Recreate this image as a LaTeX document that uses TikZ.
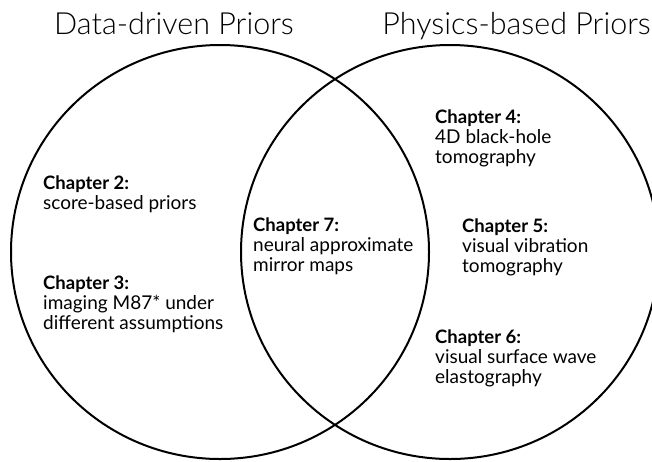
\documentclass[tikz,border=0pt]{standalone}
\usepackage{fontspec}
\setmainfont{Lato}
\newfontfamily\titlefont{Lato Light}
\usetikzlibrary{shapes.geometric}
\tikzset{
  ring/.style={draw=black, line width=2pt, ellipse, inner sep=0pt,
    minimum width=418pt, minimum height=414pt},
  titletext/.style={inner sep=0pt, font=\titlefont\fontsize{30.5}{34}\selectfont},
  blk/.style={inner sep=0pt, align=left, anchor=north west,
    font=\fontsize{19}{20}\selectfont},
}
\newcommand{\chead}[1]{\rule{0pt}{14pt}{\fontsize{18.5}{20}\selectfont\textbf{#1}}}
\begin{document}
\begin{tikzpicture}[x=1pt,y=-1pt]
\useasboundingbox (0,0) rectangle (652,461);
\node[ring] (left) at (220,252) {};
\node[ring] (right) at (450,252) {};
\node[titletext, anchor=base west] (tl) at (54,34) {Data-driven Priors};
\node[titletext, anchor=base east] (tr) at (651,34) {Physics-based Priors};
\node[blk] (c2) at (43,175) {\chead{Chapter 2:}\\score-based priors};
\node[blk] (c3) at (43,275) {\chead{Chapter 3:}\\imaging M87* under\\different assumptions};
\node[blk] (c7) at (253,217) {\chead{Chapter 7:}\\neural approximate\\mirror maps};
\node[blk] (c4) at (435,109) {\chead{Chapter 4:}\\4D black-hole\\tomography};
\node[blk] (c5) at (462,218) {\chead{Chapter 5:}\\visual vibration\\tomography};
\node[blk] (c6) at (435,329) {\chead{Chapter 6:}\\visual surface wave\\elastography};
\end{tikzpicture}
\end{document}
